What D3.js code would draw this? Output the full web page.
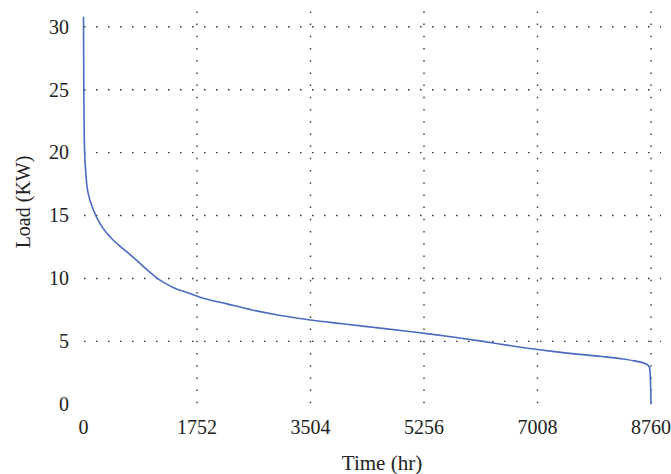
<!DOCTYPE html>
<html>
<head>
<meta charset="utf-8">
<script src="https://cdn.jsdelivr.net/npm/d3@7"></script>
<style>
  html, body { margin: 0; padding: 0; background: #fff; }
  svg text { font-family: "Liberation Serif", "DejaVu Serif", serif; fill: #222; }
</style>
</head>
<body>
<svg id="chart" width="671" height="474"></svg>
<script>
// Annual load duration curve: hours sorted by descending load
const hours = [0, 2, 5, 10, 18, 30, 50, 80, 120, 190, 300, 420, 590, 720, 850, 1000, 1130,
  1250, 1400, 1644, 1798, 2200, 2600, 3000, 3504, 4000, 4500, 5000, 5300, 5700, 6168,
  6600, 7008, 7500, 8000, 8283, 8500, 8668, 8730, 8745, 8752, 8757, 8760];
const load = [30.8, 28, 25, 22, 20, 18.8, 17.5, 16.6, 15.9, 15.0, 14.0, 13.25, 12.45, 11.9, 11.3, 10.6, 10.05,
  9.65, 9.25, 8.8, 8.5, 8.0, 7.5, 7.1, 6.7, 6.4, 6.1, 5.8, 5.62, 5.35, 5.0,
  4.65, 4.35, 4.05, 3.8, 3.63, 3.45, 3.24, 3.0, 2.6, 1.8, 0.9, 0];

const xTicks = [0, 1752, 3504, 5256, 7008, 8760];
const yTicks = [0, 5, 10, 15, 20, 25, 30];

const svg = d3.select("#chart");
const x = d3.scaleLinear().domain([0, 8760]).range([83.5, 651]);
const y = d3.scaleLinear().domain([0, 30]).range([404.3, 26.8]);

const grid = svg.append("g")
  .attr("stroke", "#333")
  .attr("stroke-width", 1.4)
  .attr("fill", "none");

// horizontal dotted gridlines (skip the baseline)
grid.selectAll("line.h")
  .data(yTicks.filter(d => d > 0))
  .join("line")
  .attr("class", "h")
  .attr("x1", x(0) + 0.5).attr("x2", 661)
  .attr("y1", d => y(d)).attr("y2", d => y(d))
  .attr("stroke-dasharray", "1.5,10.5");

// vertical dotted gridlines, drawn upward from the baseline
grid.selectAll("line.v")
  .data(xTicks.filter(d => d > 0))
  .join("line")
  .attr("class", "v")
  .attr("x1", d => x(d)).attr("x2", d => x(d))
  .attr("y1", y(0) - 1).attr("y2", 6)
  .attr("stroke-dasharray", "1.5,10.7");

// y tick labels
svg.append("g")
  .selectAll("text")
  .data(yTicks)
  .join("text")
  .attr("x", 69)
  .attr("y", d => y(d))
  .attr("dy", "0.34em")
  .attr("text-anchor", "end")
  .attr("font-size", 20)
  .text(d => d);

// x tick labels
svg.append("g")
  .selectAll("text")
  .data(xTicks)
  .join("text")
  .attr("x", d => x(d))
  .attr("y", 434)
  .attr("text-anchor", "middle")
  .attr("font-size", 20)
  .text(d => d);

// axis titles
svg.append("text")
  .attr("x", 382)
  .attr("y", 470)
  .attr("text-anchor", "middle")
  .attr("font-size", 21)
  .text("Time (hr)");

svg.append("text")
  .attr("transform", "translate(30,202) rotate(-90)")
  .attr("text-anchor", "middle")
  .attr("font-size", 20)
  .text("Load (KW)");

// load curve
const pts = hours.map((h, i) => [h, load[i]]);
svg.append("path")
  .datum(pts)
  .attr("fill", "none")
  .attr("stroke", "#4a6cc0")
  .attr("stroke-width", 1.6)
  .attr("d", d3.line()
    .x(d => x(d[0]))
    .y(d => y(d[1]))
    .curve(d3.curveMonotoneX));
</script>
</body>
</html>
